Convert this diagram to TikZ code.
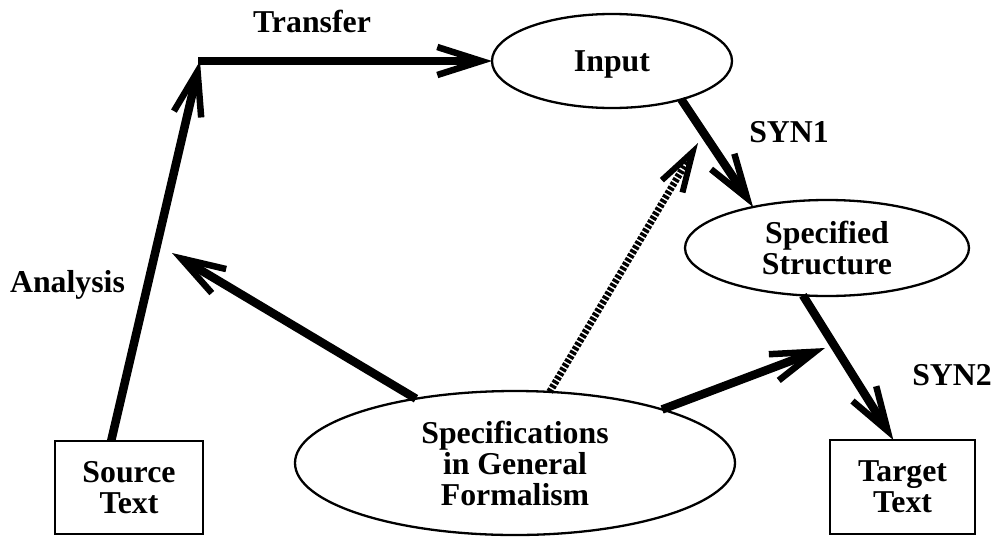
\documentclass[tikz,border=0pt]{standalone}
\usepackage{fontspec}
\setmainfont{Liberation Serif}
\usetikzlibrary{arrows.meta,shapes.geometric}

\begin{document}
\begin{tikzpicture}[x=1pt,y=-1pt,
  txt/.style={font=\fontsize{31.8}{31}\selectfont\bfseries},
  lbl/.style={txt, inner sep=0pt, anchor=base},
  oval/.style={txt, draw, ellipse, line width=2.3pt, inner sep=0pt, outer sep=0pt, align=center},
  textbox/.style={txt, draw, rectangle, line width=2.3pt, inner sep=0pt, outer sep=0pt, align=center},
  flow/.style={line width=8.5pt, -{Straight Barb[length=44pt,width=28pt,line width=6.5pt]}},
  hatched/.style={line width=7pt, dash pattern=on 3.2pt off 1.7pt,
    -{Straight Barb[length=40pt,width=24pt,line width=6pt]}}
]
\useasboundingbox (0,0) rectangle (995,536);

% boxes and ovals
\node[textbox, minimum width=148pt, minimum height=93pt] (src) at (129,487.5) {Source\\Text};
\node[textbox, minimum width=145pt, minimum height=94pt] (tgt) at (902.5,487) {Target\\Text};
\node[oval, minimum width=240pt, minimum height=94pt, text height=21.5pt, text depth=0pt] (input) at (612,61) {Input};
\node[oval, minimum width=284pt, minimum height=96pt] (spec) at (827,248) {Specified\\Structure};
\node[oval, minimum width=440pt, minimum height=144pt] (gen) at (515,463) {Specifications\\in General\\Formalism};

% free ends
\coordinate (corner) at (200,61);
\coordinate (anaEnd) at (172,253);
\coordinate (synEnd) at (825,348);
\coordinate (hatchEnd) at (698,143);

% analysis and transfer
\draw[flow] (src.111) -- (corner);
\draw[line width=8.5pt] (corner) ++(-2,0) -- (corner);
\draw[flow] (corner) -- (input.west);

% generation
\draw[flow] (input.-29) -- (spec.151.6);
\draw[flow] (spec.-117) -- (tgt.101);

% links from the general formalism
\draw[flow] (gen.147.8) -- (anaEnd);
\draw[flow] (gen.20) -- (synEnd);
\draw[hatched] (gen.64.8) -- (hatchEnd);

% labels
\node[lbl] (lTransfer) at (312,32) {Transfer};
\node[lbl] (lAnalysis) at (67.5,292) {Analysis};
\node[lbl] (lSyn1) at (789,142) {SYN1};
\node[lbl] (lSyn2) at (952,385) {SYN2};
\end{tikzpicture}
\end{document}
